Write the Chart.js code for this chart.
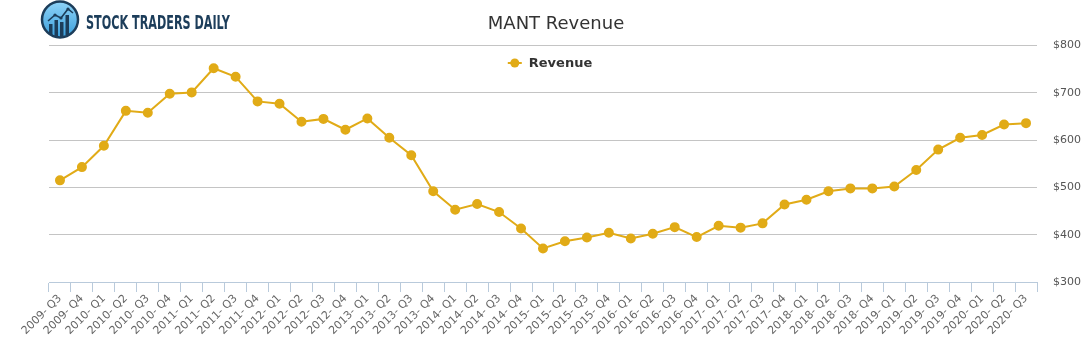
<!DOCTYPE html>
<html>
<head>
<meta charset="utf-8">
<script src="https://cdn.jsdelivr.net/npm/chart.js@4.4.1/dist/chart.umd.min.js"></script>
<style>
  html, body { margin: 0; padding: 0; background: #fff; }
  #wrap { position: relative; width: 1091px; height: 350px; }
  #logo { position: absolute; left: 40px; top: 0px; height: 40px; display: flex; align-items: center; }
  #logo span { font-family: "DejaVu Sans Condensed", "Liberation Sans Narrow", sans-serif; font-weight: bold; font-size: 19px; color: #1c3d5a; margin-left: 6px; transform: scaleX(0.655); transform-origin: left center; display: inline-block; white-space: nowrap; position: relative; top: 2px; }
</style>
</head>
<body>
<div id="wrap">
  <canvas id="c" width="1091" height="350"></canvas>
  <div id="logo">
    <svg width="40" height="40" viewBox="0 0 40 40">
      <defs>
        <linearGradient id="g" x1="0" y1="0" x2="0" y2="1">
          <stop offset="0" stop-color="#8fd3f7"/>
          <stop offset="1" stop-color="#3a9fdc"/>
        </linearGradient>
      </defs>
      <circle cx="20" cy="19.5" r="18" fill="url(#g)" stroke="#1c3d5a" stroke-width="2.5"/>
      <rect x="9" y="24" width="3.5" height="11" fill="#1c3d5a"/>
      <rect x="14.5" y="20" width="3.5" height="16" fill="#1c3d5a"/>
      <rect x="20" y="22" width="3.5" height="15" fill="#1c3d5a"/>
      <rect x="25.5" y="15" width="3.5" height="20" fill="#1c3d5a"/>
      <polyline points="8,21 15,15 21,18 28,9 33,13" fill="none" stroke="#1c3d5a" stroke-width="1.6"/>
      <circle cx="15" cy="15" r="1.6" fill="#1c3d5a"/>
      <circle cx="21" cy="18" r="1.6" fill="#1c3d5a"/>
      <circle cx="28" cy="9" r="1.6" fill="#1c3d5a"/>
    </svg>
    <span>STOCK TRADERS DAILY</span>
  </div>
</div>
<script>
const categories = ["2009- Q3","2009- Q4","2010- Q1","2010- Q2","2010- Q3","2010- Q4","2011- Q1","2011- Q2","2011- Q3","2011- Q4","2012- Q1","2012- Q2","2012- Q3","2012- Q4","2013- Q1","2013- Q2","2013- Q3","2013- Q4","2014- Q1","2014- Q2","2014- Q3","2014- Q4","2015- Q1","2015- Q2","2015- Q3","2015- Q4","2016- Q1","2016- Q2","2016- Q3","2016- Q4","2017- Q1","2017- Q2","2017- Q3","2017- Q4","2018- Q1","2018- Q2","2018- Q3","2018- Q4","2019- Q1","2019- Q2","2019- Q3","2019- Q4","2020- Q1","2020- Q2","2020- Q3"];
const revenue = [515,543,588,662,658,698,701,752,734,682,677,639,645,622,646,605,568,492,453,465,448,413,371,386,394,404,392,402,416,395,419,415,424,464,474,492,498,498,502,537,580,605,611,633,636];
const yTicks = [300,400,500,600,700,800];

const lineColor = '#e1ab17';
const FONT = '"DejaVu Sans", Verdana, sans-serif';

const legendPlugin = {
  id: 'centerLegend',
  afterDatasetsDraw(chart) {
    const ctx = chart.ctx;
    const ds = chart.data.datasets[0];
    ctx.save();
    ctx.font = 'bold 13px ' + FONT;
    const tw = ctx.measureText(ds.label).width;
    const markW = 14, gap = 7;
    const total = markW + gap + tw;
    const cx = 550;
    const x0 = cx - total / 2;
    const y = 63;
    ctx.strokeStyle = lineColor; ctx.lineWidth = 2;
    ctx.beginPath(); ctx.moveTo(x0, y); ctx.lineTo(x0 + markW, y); ctx.stroke();
    ctx.fillStyle = lineColor;
    ctx.beginPath(); ctx.arc(x0 + markW / 2, y, 4.5, 0, Math.PI * 2); ctx.fill();
    ctx.fillStyle = '#333';
    ctx.textBaseline = 'middle';
    ctx.textAlign = 'left';
    ctx.fillText(ds.label, x0 + markW + gap, y + 1);
    ctx.restore();
  }
};

new Chart(document.getElementById('c'), {
  type: 'line',
  data: {
    labels: categories,
    datasets: [{
      label: 'Revenue',
      data: revenue,
      xAxisID: 'x',
      yAxisID: 'y',
      borderColor: lineColor,
      backgroundColor: lineColor,
      pointBackgroundColor: lineColor,
      pointBorderColor: lineColor,
      pointRadius: 4,
      pointHoverRadius: 4,
      borderWidth: 2,
      tension: 0,
      fill: false
    }]
  },
  plugins: [legendPlugin],
  options: {
    responsive: false,
    animation: false,
    devicePixelRatio: 1,
    layout: { padding: { left: 21, right: 0, top: 0, bottom: 0 } },
    plugins: {
      tooltip: { enabled: false },
      legend: { display: false },
      title: {
        display: true,
        text: 'MANT Revenue',
        color: '#333',
        font: { family: FONT, size: 18, weight: 'normal' },
        padding: { top: 14, bottom: 10 }
      }
    },
    scales: {
      x: {
        offset: true,
        grid: { offset: true, drawOnChartArea: false, drawTicks: true, tickLength: 10, color: '#b9cadb' },
        border: { display: true, color: '#b9cadb' },
        ticks: {
          color: '#666', font: { family: FONT, size: 11 },
          maxRotation: 45, minRotation: 45, autoSkip: false, padding: 0
        },
        afterFit: (s) => { s.height = 68; }
      },
      spacer: {
        type: 'linear',
        axis: 'y',
        position: 'left',
        display: true,
        min: 0, max: 1,
        grid: { display: false, drawTicks: false },
        border: { display: false },
        ticks: { display: false },
        afterFit: (s) => { s.width = 28; }
      },
      y: {
        position: 'right',
        min: 300, max: 800,
        afterBuildTicks: (s) => { s.ticks = yTicks.map(v => ({ value: v })); },
        grid: { color: '#c4c4c4', drawTicks: false, lineWidth: 1 },
        border: { display: false },
        ticks: {
          color: '#555', font: { family: FONT, size: 11 }, padding: 16,
          callback: (v) => '$' + v
        },
        afterFit: (s) => { s.width = 54; }
      }
    }
  }
});
</script>
</body>
</html>
